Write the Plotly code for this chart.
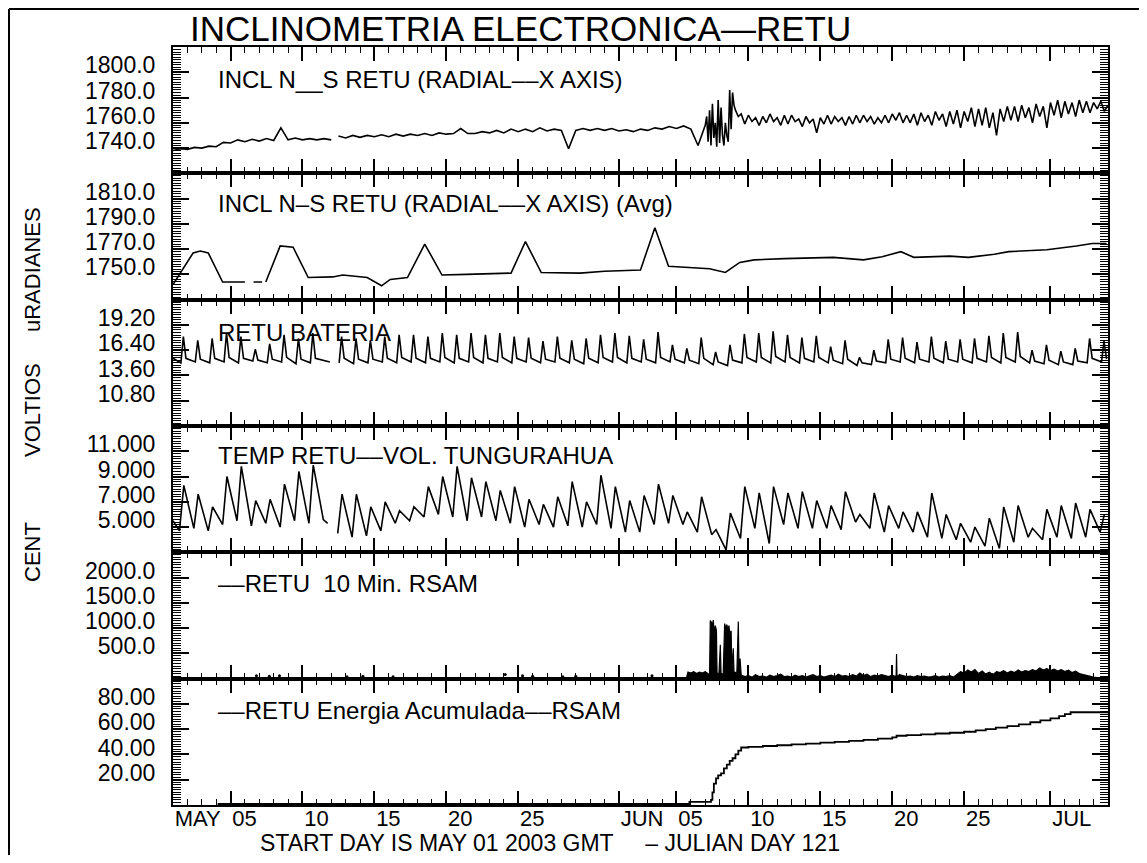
import numpy as np
import plotly.graph_objects as go
from plotly.subplots import make_subplots

# The page places the figure 8 px in from the top-left corner, so the figure is
# built 8 px smaller and all reference pixel positions are mapped accordingly.
PAGE_OFF = 8
W, H = 1147 - 2 * PAGE_OFF, 863 - 2 * PAGE_OFF
L_REF, R_REF, T_REF, B_REF = 173, 1108, 47, 805
L, R, T, B = L_REF - PAGE_OFF, R_REF - PAGE_OFF, T_REF - PAGE_OFF, B_REF - PAGE_OFF
FONT = "Liberation Sans, Arial, sans-serif"


def px(x):
    return (x - L_REF) / (R_REF - L_REF)


def py(y):
    return (B_REF - y) / (B_REF - T_REF)


# ---------------- X axis (days since 2003-05-01) ----------------
x_range = [0, 65]
major_days = [0, 4, 9, 14, 19, 24, 31, 35, 40, 45, 50, 55, 61]
major_labels = ["MAY", "05", "10", "15", "20", "25", "JUN", "05", "10", "15", "20", "25", "JUL"]

# ---------------- Panel 1: INCL N__S raw ----------------
incl_a = [1738, 1739.5, 1739, 1740.5, 1740, 1741.5, 1741, 1744.5, 1744, 1746.5, 1745,
          1747, 1745.5, 1747.5, 1746, 1756, 1746.5, 1748, 1746.5, 1747.5, 1746.5, 1747.5, 1746.5]
incl_b = [1749.5, 1748, 1750, 1748.5, 1750, 1749, 1750.5, 1749, 1751, 1749.5,
          1751, 1750, 1751.5, 1750, 1752, 1751, 1751.5, 1755.5, 1751.5, 1751.5,
          1753, 1752, 1754, 1752, 1755, 1753, 1755, 1753, 1756, 1753.5,
          1755, 1754, 1739.5, 1754, 1755.5, 1754, 1755.5, 1754, 1755.5, 1753.5,
          1754.5, 1753, 1755, 1754, 1756, 1755, 1757, 1755.5, 1757.5, 1755,
          1742, 1758]
incl_c = [1765, 1745, 1770, 1742, 1775, 1748, 1760, 1741, 1778, 1744, 1772, 1750,
          1742, 1760, 1750, 1745, 1786, 1755, 1784, 1774, 1770, 1768, 1765]
incl_d = [1767, 1759,
          1766, 1761, 1764, 1758, 1765, 1760, 1767, 1761, 1764, 1758, 1766, 1759,
          1766, 1761, 1763, 1757, 1765, 1760, 1763, 1752, 1764, 1759, 1766, 1759,
          1765, 1761, 1764, 1758, 1765, 1759, 1766, 1760, 1766, 1761, 1765, 1759,
          1764, 1760, 1766, 1760, 1767, 1762, 1768, 1760, 1766, 1760, 1767, 1758,
          1768, 1761, 1766, 1758, 1769, 1762, 1767, 1757, 1769, 1759, 1770, 1756,
          1769, 1761, 1772, 1757, 1771, 1758, 1772, 1756, 1768, 1750, 1771, 1761,
          1773, 1762, 1773, 1761, 1774, 1764, 1772, 1760, 1775, 1765, 1773, 1756,
          1776, 1766, 1778, 1764, 1777, 1767, 1776, 1765, 1778, 1768, 1777, 1768,
          1776, 1771, 1777, 1769, 1774]

# ---------------- Panel 2: INCL N-S (Avg) ----------------
avg_day = [0, 1.4, 1.9, 2.45, 3.45, 5.0, 5.3, 5.6, 6.2, 6.3, 6.45, 7.45, 8.35, 9.4,
           11.1, 11.8, 13.5, 14.5, 15.1, 16.3, 17.5, 18.7, 20.4, 22.7, 23.5, 24.5,
           25.6, 28.3, 30.0, 32.5, 33.5, 34.45, 37.3, 38.4, 39.4, 40.4, 42.5, 45.9,
           48.0, 49.3, 50.6, 51.5, 52.9, 54.0, 55.3, 57.1, 58.1, 60.75, 62.8, 63.9, 64.9]
avg_val = [1742, 1767, 1768.5, 1767, 1744, 1744, None, 1744, 1744, None, 1744, 1772.5,
           1771.5, 1747.5, 1748, 1749.5, 1747.5, 1741, 1746, 1747.5, 1774, 1749.5,
           1750, 1750.5, 1751, 1776, 1751.5, 1751, 1752.5, 1753.5, 1787, 1756.5,
           1754.5, 1751.5, 1759.5, 1761.5, 1762.5, 1763.5, 1761.5, 1764, 1768,
           1763.5, 1764, 1764.5, 1763.5, 1766, 1768, 1769.5, 1772.5, 1774.5, 1774.5]

# ---------------- Panel 3: RETU BATERIA (per day) ----------------
bat_low = [15.0, 15.1, 15.0, 15.1, 15.0, 15.2, 15.0, 15.1, 14.9, 15.0,
           15.2, 15.0, 14.9, 15.0, 15.1, 15.0, 15.1, 15.0, 15.1, 15.0,
           15.1, 15.0, 15.1, 15.0, 15.1, 15.0, 15.1, 15.0, 14.9, 15.0,
           15.1, 15.0, 15.1, 15.0, 15.1, 15.0, 14.9, 14.8, 14.7, 15.0,
           15.1, 15.0, 15.1, 15.0, 15.1, 15.0, 14.9, 14.7, 14.8, 15.0,
           15.1, 15.0, 15.1, 15.0, 15.1, 15.0, 15.1, 15.0, 15.1, 15.0,
           14.9, 14.8, 14.8, 15.0, 15.1]
bat_peak = [17.9, 17.5, 17.7, 18.3, 17.9, 16.5, 17.1, 18.1, 17.7, 18.3,
            15.2, 17.9, 17.7, 17.5, 17.9, 18.1, 18.1, 17.9, 18.3, 18.1,
            18.3, 18.1, 18.3, 17.9, 17.8, 17.4, 17.9, 17.5, 17.7, 18.1,
            18.3, 18.0, 17.6, 18.4, 17.0, 16.6, 17.8, 16.2, 17.0, 18.2,
            18.3, 18.5, 18.1, 17.8, 18.0, 16.8, 17.5, 15.6, 16.4, 17.6,
            17.8, 17.3, 17.9, 17.4, 17.6, 17.7, 18.0, 18.3, 18.4, 16.4,
            17.0, 16.3, 16.6, 17.7, 17.4]
bat_after = [15.5, 15.4, 15.5, 15.6, 15.5, 15.3, 15.4, 15.6, 15.4, 15.5,
             15.1, 15.5, 15.4, 15.4, 15.5, 15.6, 15.5, 15.5, 15.6, 15.5,
             15.6, 15.5, 15.6, 15.5, 15.5, 15.4, 15.5, 15.4, 15.5, 15.6,
             15.6, 15.5, 15.4, 15.6, 15.4, 15.3, 15.5, 15.1, 15.3, 15.6,
             15.6, 15.7, 15.6, 15.5, 15.6, 15.3, 15.4, 15.0, 15.2, 15.4,
             15.5, 15.4, 15.5, 15.4, 15.4, 15.5, 15.6, 15.6, 15.7, 15.2,
             15.3, 15.1, 15.2, 15.5, 15.4]

# ---------------- Panel 4: TEMP (per day) ----------------
temp_min = [4.7, 4.9, 4.7, 5.2, 5.5, 5.1, 5.3, 5.0, 5.5, 5.3,
            5.6, 4.5, 4.2, 4.3, 4.7, 5.3, 5.5, 5.8, 6.0, 5.8,
            5.5, 5.8, 5.5, 5.3, 5.0, 5.2, 5.0, 5.1, 5.0, 5.2,
            4.9, 4.6, 4.6, 5.2, 5.3, 5.2, 4.6, 4.4, 3.2, 4.1,
            4.9, 3.7, 5.2, 4.9, 4.9, 4.9, 4.8, 5.4, 4.9, 4.6,
            4.9, 4.6, 4.2, 4.1, 4.0, 3.8, 3.5, 3.3, 3.8, 4.2,
            4.0, 4.2, 4.1, 4.2, 4.6]
temp_max = [8.3, 7.6, 6.6, 9.0, 9.8, 7.1, 7.2, 8.4, 9.4, 9.9,
            5.3, 7.6, 7.6, 6.6, 7.0, 6.3, 6.6, 8.2, 9.0, 9.8,
            8.9, 8.6, 7.9, 8.2, 7.2, 6.8, 7.4, 8.6, 7.0, 9.1,
            8.2, 7.1, 7.5, 8.4, 7.5, 6.2, 7.4, 4.8, 6.1, 8.2,
            7.7, 8.2, 7.7, 7.8, 7.1, 6.7, 7.8, 6.0, 7.7, 6.7,
            6.2, 6.2, 7.7, 6.0, 5.3, 5.0, 5.7, 6.6, 6.7, 4.9,
            6.4, 6.7, 6.9, 6.4, 6.0]

# ---------------- Panel 5: RSAM ----------------
rsam_burst_day = [35.7, 35.8, 36.0, 36.2, 36.4, 36.6, 36.8, 37.0, 37.2, 37.3,
                  37.35, 37.42, 37.5, 37.56, 37.62, 37.7, 37.78, 37.82, 37.95, 38.05,
                  38.1, 38.25, 38.35, 38.42, 38.5, 38.58, 38.65, 38.72, 38.8, 38.85,
                  38.95, 39.0, 39.2, 39.3, 39.35, 39.42]
rsam_burst_val = [20, 130, 110, 140, 100, 130, 110, 140, 100, 60,
                  1150, 1120, 1050, 1160, 900, 1050, 950, 120, 80, 670,
                  90, 100, 1090, 1000, 1070, 980, 1050, 850, 950, 150,
                  600, 120, 130, 1130, 200, 400]
rsam_tail = [70, 40, 60, 30, 80, 40, 50, 30, 70, 40, 60, 90, 40, 50, 30, 70, 40, 60, 30, 50,
             80, 40, 60, 30, 50, 70, 40, 90, 50, 60, 40, 80, 50, 110, 60, 90, 40, 70, 50, 80,
             60, 40, 70, 50, 80, 60, 40, 50, 30, 60, 40, 50, 30, 40, 60, 30, 50, 40, 60, 30,
             90, 140, 110, 170, 130, 180, 100, 150, 90, 130, 80, 140, 120, 160, 110, 150, 120, 170, 130, 160,
             140, 180, 150, 210, 170, 200, 160, 190, 150, 180, 140, 170, 120, 150, 100, 80, 60, 40, 30, 20,
             10]
rsam_spike_day = [50.27, 50.3, 50.33]
rsam_spike_val = [40, 490, 40]
rsam_dot_day = [5.8, 6.7, 7.4, 12.1, 13.2, 15.3, 23.1, 24.3, 25.0, 27.1, 28.0, 33.3]
rsam_dot_val = [60, 50, 60, 40, 50, 40, 80, 60, 50, 40, 50, 60]

# ---------------- Panel 6: Energia acumulada ----------------
ener_day = [3.1, 35.9, 37.4, 37.5, 37.6, 37.75, 37.9, 38.1, 38.3, 38.5, 38.7, 38.9,
            39.1, 39.3, 39.5, 40.0, 41, 42, 43, 44, 45, 46, 47, 48, 49, 50, 50.3, 51,
            52, 53, 54, 55, 55.8, 56.5, 57.2, 58, 58.8, 59.6, 60.3, 61, 61.6, 62.0,
            62.4, 65.0]
ener_val = [0.8, 2.5, 4, 10, 17, 21, 23.5, 25, 29, 32, 35, 37, 40, 43, 45.5, 46,
            46.7, 47.3, 48, 48.6, 49.3, 50, 50.7, 51.6, 52.5, 53.5, 54.8, 55.3, 55.9,
            56.6, 57.2, 58, 59, 60, 61.2, 62.5, 63.8, 65.5, 67, 68.5, 70.3, 72, 73.4,
            73.4]

# ---------------- Y axes ----------------
y_ranges = [[1720, 1820], [1730, 1830], [8, 22], [3, 13], [0, 2500], [0, 100]]
y_ticks = [[1740, 1760, 1780, 1800], [1750, 1770, 1790, 1810],
           [10.8, 13.6, 16.4, 19.2], [5, 7, 9, 11], [500, 1000, 1500, 2000], [20, 40, 60, 80]]
y_formats = [".1f", ".1f", ".2f", ".3f", ".1f", ".2f"]

panel_titles = ["INCL N__S RETU (RADIAL––X AXIS)",
                "INCL N–S RETU (RADIAL––X AXIS) (Avg)",
                "RETU BATERIA",
                "TEMP RETU––VOL. TUNGURAHUA",
                "––RETU  10 Min. RSAM",
                "––RETU Energia Acumulada––RSAM"]
panel_title_y = [79, 203, 332, 455, 583, 710]

# ---------------- Build series ----------------
incl_x = (list(np.arange(0, 11.01, 0.5)) + [11.25] + list(np.arange(11.5, 37.01, 0.5))
          + list(np.round(np.arange(37.1, 39.31, 0.1), 2)) + list(np.arange(39.5, 65.01, 0.25)))
incl_y = incl_a + [None] + incl_b + incl_c + incl_d

bx, by = [0.0], [15.5]
tx, ty = [0.0], [5.5]
for d in range(65):
    if d == 11:
        bx.append(11.2)
        by.append(None)
        tx.append(11.2)
        ty.append(None)
    bx += [d + 0.55, d + 0.72, d + 0.9]
    by += [bat_low[d], bat_peak[d], bat_after[d]]
    tx += [d + 0.45, d + 0.75]
    ty += [temp_min[d], temp_max[d]]

tail_day = list(np.arange(39.5, 64.51, 0.25))
pairs = sorted(list(zip(tail_day, rsam_tail)) + list(zip(rsam_spike_day, rsam_spike_val)))
rsam_x = rsam_burst_day + [p[0] for p in pairs]
rsam_y = rsam_burst_val + [p[1] for p in pairs]

fig = make_subplots(rows=6, cols=1, vertical_spacing=0)
LINE = dict(color="black", width=1.6)

fig.add_trace(go.Scatter(x=incl_x, y=incl_y, mode="lines", line=LINE), row=1, col=1)
fig.add_trace(go.Scatter(x=avg_day, y=avg_val, mode="lines", line=LINE), row=2, col=1)
fig.add_trace(go.Scatter(x=bx, y=by, mode="lines", line=LINE), row=3, col=1)
fig.add_trace(go.Scatter(x=tx, y=ty, mode="lines", line=LINE), row=4, col=1)
fig.add_trace(go.Scatter(x=rsam_x, y=rsam_y, mode="lines", line=dict(color="black", width=1.2),
                         fill="tozeroy", fillcolor="black"), row=5, col=1)
fig.add_trace(go.Scatter(x=rsam_dot_day, y=rsam_dot_val, mode="markers",
                         marker=dict(color="black", size=3)), row=5, col=1)
fig.add_trace(go.Scatter(x=ener_day, y=ener_val, mode="lines", line=dict(color="black", width=1.8),
                         line_shape="hv"), row=6, col=1)

for i in range(6):
    r = i + 1
    fig.update_xaxes(
        row=r, col=1, range=x_range, tickmode="array", tickvals=major_days,
        ticktext=major_labels, showticklabels=(r == 6), ticks="inside", ticklen=14,
        tickwidth=1.5, tickcolor="black", showline=True, linewidth=2, linecolor="black",
        mirror="ticks", showgrid=False, zeroline=False,
        ticklabelposition="outside right", ticklabelstandoff=-7,
        tickfont=dict(family=FONT, size=22, color="black"),
        minor=dict(ticks="inside", ticklen=6, tickwidth=1.3, tickcolor="black",
                   dtick=1, tick0=0, showgrid=False),
    )
    step = y_ticks[i][1] - y_ticks[i][0]
    fig.update_yaxes(
        row=r, col=1, range=y_ranges[i], tickmode="array", tickvals=y_ticks[i],
        tickformat=y_formats[i], ticks="inside", ticklen=16, tickwidth=1.5,
        tickcolor="black", showline=True, linewidth=2, linecolor="black",
        mirror="ticks", showgrid=False, zeroline=False,
        ticklabelstandoff=11, ticklabelshift=-7,
        tickfont=dict(family=FONT, size=23, color="black"),
        minor=dict(ticks="inside", ticklen=8, tickwidth=1.2, tickcolor="black",
                   dtick=step / 10, tick0=y_ranges[i][0], showgrid=False),
    )

ann = []
ann.append(dict(x=px(520), y=py(28.5), xref="paper", yref="paper", showarrow=False,
                text="INCLINOMETRIA ELECTRONICA—RETU", xanchor="center", yanchor="middle",
                font=dict(family=FONT, size=35, color="black")))
for t, yy in zip(panel_titles, panel_title_y):
    ann.append(dict(x=px(216), y=py(yy), xref="paper", yref="paper", showarrow=False,
                    text=t, xanchor="left", yanchor="middle",
                    font=dict(family=FONT, size=24, color="black")))
for t, yy in [("uRADIANES", 270), ("VOLTIOS", 410), ("CENT", 552)]:
    ann.append(dict(x=px(32), y=py(yy), xref="paper", yref="paper", showarrow=False,
                    text=t, textangle=-90, xanchor="center", yanchor="middle",
                    font=dict(family=FONT, size=22, color="black")))
ann.append(dict(x=px(259), y=py(843), xref="paper", yref="paper", showarrow=False,
                text="START DAY IS MAY 01 2003 GMT     – JULIAN DAY 121",
                xanchor="left", yanchor="middle", borderpad=0,
                font=dict(family=FONT, size=23, color="black")))

fig.update_layout(
    width=W, height=H, margin=dict(l=L, r=W - R, t=T, b=H - B),
    paper_bgcolor="white", plot_bgcolor="white", showlegend=False,
    annotations=ann,
    shapes=[
        dict(type="line", xref="paper", yref="paper", x0=px(9), x1=px(1160),
             y0=py(9), y1=py(9), line=dict(color="black", width=2)),
        dict(type="line", xref="paper", yref="paper", x0=px(9), x1=px(9),
             y0=py(9), y1=py(880), line=dict(color="black", width=2)),
    ],
)

fig.write_html("out.html")
